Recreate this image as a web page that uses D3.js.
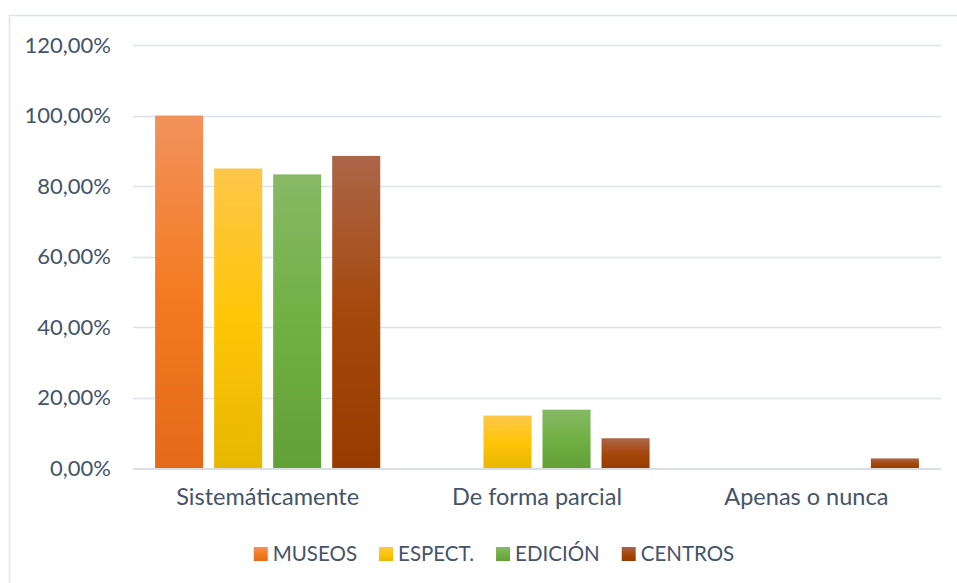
<!DOCTYPE html>
<html>
<head>
<meta charset="utf-8">
<script src="https://cdn.jsdelivr.net/npm/d3@7"></script>
<style>
  html, body { margin: 0; padding: 0; background: #fff; }
  svg { display: block; }
  text { font-family: Lato, "Open Sans", sans-serif; fill: #44546A; }
</style>
</head>
<body>
<svg id="chart" width="957" height="583"></svg>
<script>
// Response frequency by sector
const categories = ["Sistemáticamente", "De forma parcial", "Apenas o nunca"];
const series = ["MUSEOS", "ESPECT.", "EDICIÓN", "CENTROS"];
const museos  = [1.0, 0, 0];
const espect  = [0.85, 0.15, 0];
const edicion = [0.8333, 0.1667, 0];
const centros = [0.8857, 0.0857, 0.0286];
const yTicks = [0, 0.2, 0.4, 0.6, 0.8, 1.0, 1.2];

const valuesBySeries = [museos, espect, edicion, centros];

// light / base / dark stops for each series' vertical gradient
const palette = [
  ["#F2925C", "#F47B22", "#E46A18"],
  ["#FDC648", "#FFC508", "#E7B700"],
  ["#86B965", "#71B044", "#62A038"],
  ["#AB6648", "#A5480C", "#983B00"]
];

const svg = d3.select("#chart");
const axisFont = 22, catFont = 23.5, legendFont = 20.5;

// outer frame (runs past the right and bottom edges)
svg.append("rect")
  .attr("x", 9.5).attr("y", 15.5)
  .attr("width", 1000).attr("height", 700)
  .attr("fill", "#fff")
  .attr("stroke", "#E0E4EA").attr("stroke-width", 1.5);

const defs = svg.append("defs");
palette.forEach((c, i) => {
  const g = defs.append("linearGradient")
    .attr("id", "grad" + i)
    .attr("x1", 0).attr("y1", 0).attr("x2", 0).attr("y2", 1);
  g.append("stop").attr("offset", "0%").attr("stop-color", c[0]);
  g.append("stop").attr("offset", "50%").attr("stop-color", c[1]);
  g.append("stop").attr("offset", "100%").attr("stop-color", c[2]);
});

const plotLeft = 133, plotRight = 941, plotTop = 45, plotBottom = 468.5;

const x0 = d3.scaleBand().domain(categories).range([plotLeft, plotRight]);
const groupSpan = x0.bandwidth() * 0.836;
const x1 = d3.scaleBand().domain(series)
  .range([(x0.bandwidth() - groupSpan) / 2, (x0.bandwidth() + groupSpan) / 2])
  .paddingInner(0.186).paddingOuter(0);
const y = d3.scaleLinear().domain([0, 1.2]).range([plotBottom, plotTop]);

const fmt = v => d3.format(".2f")(v * 100).replace(".", ",") + "%";

// gridlines
svg.append("g")
  .selectAll("line")
  .data(yTicks.filter(t => t > 0))
  .join("line")
  .attr("x1", plotLeft).attr("x2", plotRight)
  .attr("y1", d => Math.round(y(d)) + 0.5).attr("y2", d => Math.round(y(d)) + 0.5)
  .attr("stroke", "#DEE2E8").attr("stroke-width", 1.5);

// y axis labels
const yAxis = d3.axisLeft(y).tickValues(yTicks).tickFormat(fmt).tickSize(0).tickPadding(0);
const yg = svg.append("g").attr("transform", `translate(111,0)`).call(yAxis);
yg.select(".domain").remove();
yg.selectAll("text")
  .attr("font-size", axisFont)
  .attr("font-family", "Lato, 'Open Sans', sans-serif")
  .attr("fill", "#44546A");

// bars
const groups = svg.append("g").selectAll("g")
  .data(categories)
  .join("g")
  .attr("transform", d => `translate(${x0(d)},0)`);

groups.selectAll("rect")
  .data((c, ci) => series.map((s, si) => ({ s, si, v: valuesBySeries[si][ci] })))
  .join("rect")
  .attr("x", d => x1(d.s))
  .attr("width", x1.bandwidth())
  .attr("y", d => y(d.v))
  .attr("height", d => y(0) - y(d.v))
  .attr("fill", d => `url(#grad${d.si})`);

// baseline
svg.append("line")
  .attr("x1", plotLeft).attr("x2", plotRight)
  .attr("y1", plotBottom + 0.5).attr("y2", plotBottom + 0.5)
  .attr("stroke", "#DADEE4").attr("stroke-width", 2);

// category labels
const xAxis = d3.axisBottom(x0).tickSize(0).tickPadding(0);
const xg = svg.append("g").attr("transform", `translate(0,${plotBottom + 20})`).call(xAxis);
xg.select(".domain").remove();
xg.selectAll("text")
  .attr("font-size", catFont)
  .attr("font-family", "Lato, 'Open Sans', sans-serif")
  .attr("fill", "#44546A");

// legend
const legend = svg.append("g");
const sw = 14, gapText = 5, itemGap = 22;
const items = legend.selectAll("g").data(series).join("g");
items.append("rect")
  .attr("width", sw).attr("height", sw)
  .attr("y", -sw)
  .attr("fill", (d, i) => `url(#grad${i})`);
items.append("text")
  .attr("x", sw + gapText)
  .attr("y", 0)
  .attr("font-size", legendFont)
  .text(d => d);
let cx = 0;
items.each(function () {
  const w = this.getBBox().width;
  d3.select(this).attr("data-x", cx);
  cx += w + itemGap;
});
const total = cx - itemGap;
const startX = 494 - total / 2;
items.attr("transform", function () {
  return `translate(${startX + (+this.getAttribute("data-x"))},561)`;
});
</script>
</body>
</html>
